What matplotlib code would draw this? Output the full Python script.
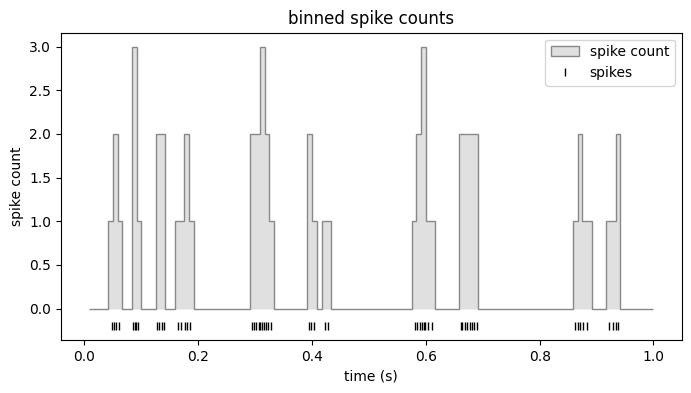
import numpy as np
import matplotlib
matplotlib.use("Agg")
import matplotlib.pyplot as plt

# spike times (s)
spike_times = [
    0.048, 0.052, 0.055, 0.061,
    0.085, 0.088, 0.090, 0.094,
    0.127, 0.131, 0.137, 0.140,
    0.164, 0.170, 0.176, 0.180, 0.186,
    0.294, 0.298, 0.302, 0.306, 0.309, 0.312, 0.315, 0.319, 0.323, 0.328,
    0.394, 0.398, 0.403, 0.422, 0.428,
    0.581, 0.585, 0.589, 0.593, 0.596, 0.598, 0.603, 0.611,
    0.661, 0.664, 0.669, 0.673, 0.677, 0.681, 0.685, 0.690,
    0.862, 0.867, 0.871, 0.877, 0.884,
    0.922, 0.929, 0.935, 0.938,
]
n_bins_total = 120          # bins per second
first_edge_index = 1        # histogram drawn from the 2nd edge on
spike_row_y = -0.2

edges = np.arange(first_edge_index, n_bins_total + 1) / n_bins_total
counts, _ = np.histogram(spike_times, bins=edges)

fig = plt.figure(figsize=(6.91, 3.93), dpi=100)
ax = fig.add_axes([0.0883, 0.1349, 0.8982, 0.7819])

ax.stairs(counts, edges, fill=True, facecolor="#e0e0e0", edgecolor="#888888",
          linewidth=1.0, label="spike count")
ax.plot(spike_times, np.full(len(spike_times), spike_row_y), "|", color="black",
        markersize=5.5, markeredgewidth=1.0, label="spikes")

ax.set_title("binned spike counts", fontsize=12)
ax.set_xlabel("time (s)")
ax.set_ylabel("spike count")
ax.legend(loc="upper right")

fig.savefig("out.png", dpi=100)
